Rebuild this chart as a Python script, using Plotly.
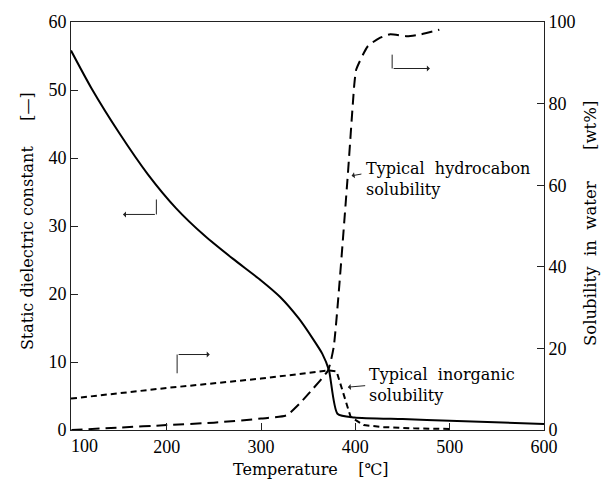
import plotly.graph_objects as go

# Static dielectric constant (left axis)
temp_dielectric = [98.5, 120, 150, 180, 210, 240, 270, 300, 320, 340, 355, 365, 372, 381, 399, 450, 500, 600]
dielectric = [55.8, 50.3, 43.6, 37.6, 32.6, 28.6, 25.2, 22.0, 19.6, 16.4, 13.4, 11.2, 8.8, 2.4, 1.85, 1.6, 1.36, 0.9]

# Typical hydrocarbon solubility (right axis, wt%)
temp_hydro = [99, 150, 200, 250, 300, 327, 341, 355, 371, 377, 391.5, 399, 401, 413, 425, 437, 455, 470, 489]
sol_hydro = [0, 0.6, 1.2, 1.8, 2.8, 3.6, 6.5, 10.1, 14.6, 20.3, 61, 85, 88.4, 94, 96, 97, 96.5, 97, 98.1]

# Typical inorganic solubility (right axis, wt%)
temp_inorg = [98.5, 200, 300, 372, 380, 388, 395, 399, 409, 430, 462, 500]
sol_inorg = [7.7, 10.3, 12.6, 14.6, 14.4, 8.1, 3.2, 2.6, 1.2, 0.7, 0.4, 0.25]

x_ticks = [200, 300, 400, 500, 600]
y_left_ticks = [0, 10, 20, 30, 40, 50, 60]
y_right_ticks = [0, 20, 40, 60, 80, 100]

SERIF = "Liberation Serif"
TXT = "DejaVu Serif"
NB = "\u00a0"

fig = go.Figure()
fig.add_trace(go.Scatter(x=temp_dielectric, y=dielectric, mode="lines",
                         line=dict(color="black", width=2, shape="spline", smoothing=0.6),
                         yaxis="y", showlegend=False))
fig.add_trace(go.Scatter(x=temp_hydro, y=sol_hydro, mode="lines",
                         line=dict(color="black", width=2, dash="11px,6px", shape="spline", smoothing=0.5),
                         yaxis="y2", showlegend=False))
fig.add_trace(go.Scatter(x=temp_inorg, y=sol_inorg, mode="lines",
                         line=dict(color="black", width=2, dash="6px,4px"),
                         yaxis="y2", showlegend=False))

axis_common = dict(showgrid=False, zeroline=False, showline=True, linecolor="#222",
                   linewidth=1, ticks="inside", ticklen=7, tickcolor="#222",
                   tickfont=dict(family=SERIF, size=18, color="black"))

fig.update_layout(
    width=607, height=485, autosize=False,
    margin=dict(l=71, r=63, t=19, b=55),
    paper_bgcolor="white", plot_bgcolor="white",
    xaxis=dict(range=[98.5, 600], tickvals=x_ticks, mirror=True, **axis_common),
    yaxis=dict(range=[0, 60], tickvals=y_left_ticks, **axis_common),
    yaxis2=dict(range=[0, 100], tickvals=y_right_ticks, overlaying="y", side="right",
                **axis_common),
)

ann = []
# tick label for 100 at left edge
ann.append(dict(x=100, y=0, xref="x", yref="paper", text="100", showarrow=False,
                xshift=12, yshift=-4, yanchor="top", xanchor="center",
                font=dict(family=SERIF, size=18, color="black")))
# axis titles
ann.append(dict(x=-0.093, y=0.512, xref="paper", yref="paper", textangle=-90,
                xanchor="center", yanchor="middle",
                text="Static" + NB + "dielectric" + NB + "constant" + NB * 5 + "[\u2014]",
                showarrow=False, font=dict(family=TXT, size=16, color="black")))
ann.append(dict(x=1.097, y=0.507, xref="paper", yref="paper", textangle=-90,
                xanchor="center", yanchor="middle",
                text="Solubility" + NB * 2 + "in" + NB * 2 + "water" + NB * 6 + "[wt%]",
                showarrow=False, font=dict(family=TXT, size=16.5, color="black")))
ann.append(dict(x=0.507, y=-0.097, xref="paper", yref="paper",
                xanchor="center", yanchor="middle",
                text="Temperature" + NB * 4 + "[\u2103]",
                showarrow=False, font=dict(family=TXT, size=16, color="black")))
# curve labels
ann.append(dict(x=409, y=61.4, xref="x", yref="y2", xanchor="left", yanchor="middle",
                text="Typical" + NB * 2 + "hydrocabon<br>solubility", align="left",
                showarrow=False, font=dict(family=TXT, size=16, color="black")))
ann.append(dict(x=412, y=10.95, xref="x", yref="y2", xanchor="left", yanchor="middle",
                text="Typical" + NB * 2 + "inorganic<br>solubility", align="left",
                showarrow=False, font=dict(family=TXT, size=16, color="black")))
# pointer arrows to curves
ann.append(dict(x=396, y=62.3, ax=408, ay=62.8, xref="x", yref="y2", axref="x", ayref="y2",
                text="", showarrow=True, arrowhead=1, arrowsize=1, arrowwidth=1, arrowcolor="#222"))
ann.append(dict(x=392, y=10.5, ax=412, ay=10.9, xref="x", yref="y2", axref="x", ayref="y2",
                text="", showarrow=True, arrowhead=1, arrowsize=1, arrowwidth=1, arrowcolor="#222"))
# axis-indicator arrows
ann.append(dict(x=153.6, y=31.7, ax=189, ay=31.7, xref="x", yref="y", axref="x", ayref="y",
                text="", showarrow=True, arrowhead=1, arrowsize=1, arrowwidth=1, arrowcolor="#222"))
ann.append(dict(x=245.6, y=18.5, ax=211, ay=18.5, xref="x", yref="y2", axref="x", ayref="y2",
                text="", showarrow=True, arrowhead=1, arrowsize=1, arrowwidth=1, arrowcolor="#222"))
ann.append(dict(x=479, y=88.6, ax=439, ay=88.6, xref="x", yref="y2", axref="x", ayref="y2",
                text="", showarrow=True, arrowhead=1, arrowsize=1, arrowwidth=1, arrowcolor="#222"))
fig.update_layout(annotations=ann)

shapes = [
    dict(type="line", xref="x", yref="y", x0=189, x1=189, y0=31.7, y1=33.9,
         line=dict(color="#222", width=1)),
    dict(type="line", xref="x", yref="y2", x0=211, x1=211, y0=13.9, y1=18.5,
         line=dict(color="#222", width=1)),
    dict(type="line", xref="x", yref="y2", x0=439, x1=439, y0=88.6, y1=92,
         line=dict(color="#222", width=1)),
]
fig.update_layout(shapes=shapes)

fig.write_html("out.html")
